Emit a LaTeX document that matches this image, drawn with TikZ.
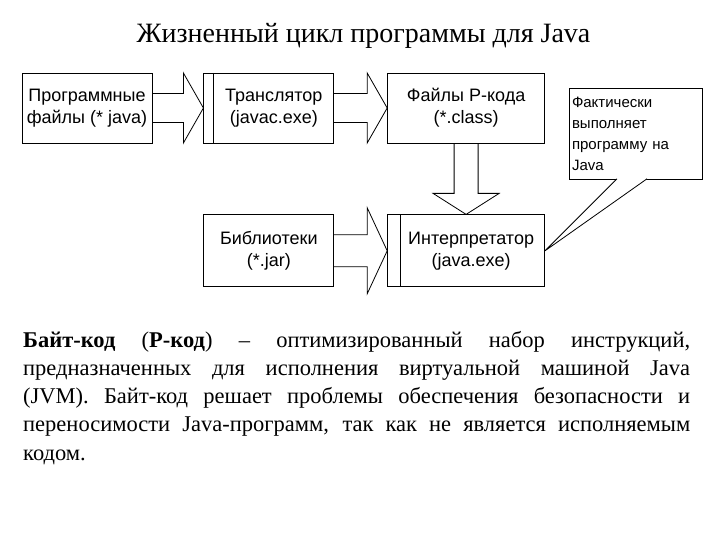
\documentclass[tikz,border=0pt]{standalone}
\usepackage{fontspec}
\setmainfont{Liberation Serif}
\setsansfont{Liberation Sans}
\usetikzlibrary{positioning, calc}
\tikzset{
    box/.style={rectangle, draw, line width=0.8pt, minimum width=130pt, minimum height=70pt, inner sep=0pt, align=center, font=\sffamily\fontsize{18}{22}\selectfont},
    splitbox/.style={box, path picture={\draw[line width=0.8pt] ([xshift=#1]path picture bounding box.north west) -- ([xshift=#1]path picture bounding box.south west);}},
    splitbox/.default=11pt,
    bigarrow/.style={draw, line width=0.8pt, line join=miter},
    note/.style={rectangle, draw, fill=white, line width=0.8pt, minimum width=133pt, minimum height=91pt, inner xsep=3pt, text width=127pt, align=left, font=\sffamily\fontsize{15}{21}\selectfont}
}
% block arrow: from, to, half shaft, half head
\newcommand{\rightblock}[4]{%
  \draw[bigarrow] ($(#1.east)+(0,-#3)$) -- ($(#2.west)+(-20,-#3)$) -- ($(#2.west)+(-20,-#4)$) -- (#2.west)
    -- ($(#2.west)+(-20,#4)$) -- ($(#2.west)+(-20,#3)$) -- ($(#1.east)+(0,#3)$);}
\newcommand{\sh}{\hspace*{10pt}}

\begin{document}
\begin{tikzpicture}[x=1pt, y=-1pt]
    \useasboundingbox (0,0) rectangle (720,540);

    \node[anchor=base, font=\fontsize{28}{32}\selectfont] (title) at (363.5,43) {Жизненный цикл программы для Java};

    \node[box] (prog) at (87,108) {Программные\\файлы (* java)};
    \node[splitbox=10pt, right=51pt of prog] (trans) {\sh Транслятор\\\sh (javac.exe)};
    \node[box, minimum width=157pt, right=53pt of trans] (rcode) {Файлы P-кода\\(*.class)};
    \node[splitbox=13pt, minimum width=157pt, minimum height=72pt, below=71pt of rcode] (interp) {\sh Интерпретатор\\\sh (java.exe)};
    \node[box, minimum height=72pt, left=53pt of interp] (libs) {Библиотеки\\(*.jar)};

    \node[note] (fact) at (635.5,133.5) {Фактически\\выполняет\\программу на\\Java};

    \rightblock{prog}{trans}{14.5}{35}
    \rightblock{trans}{rcode}{14.5}{35}
    \rightblock{libs}{interp}{16}{43}

    % down arrow into the interpreter
    \draw[bigarrow] ($(rcode.south)+(-12,0)$) -- ($(interp.north)+(-12,-21)$) -- ($(interp.north)+(-33,-21)$) -- (interp.north)
        -- ($(interp.north)+(33,-21)$) -- ($(interp.north)+(12,-21)$) -- ($(rcode.south)+(12,0)$);

    % callout tail
    \draw[fill=white, line width=0.8pt] ($(fact.south)+(-18.5,-0.6)$) -- (interp.east) -- ($(fact.south)+(11.5,-0.6)$);

    \node[anchor=north west, inner sep=0pt, text width=667pt, align=justify,
          font=\fontsize{22.5}{28.2}\selectfont] (desc) at (23,331)
        {\hyphenpenalty=10000\relax
         \textbf{Байт-код} (\textbf{Р-код}) – оптимизированный набор инструкций,\linebreak
         предназначенных для исполнения виртуальной машиной Java\linebreak
         (JVM). Байт-код решает проблемы обеспечения безопасности и\linebreak
         переносимости Java-программ, так как не является исполняемым\linebreak
         кодом.};
\end{tikzpicture}
\end{document}
